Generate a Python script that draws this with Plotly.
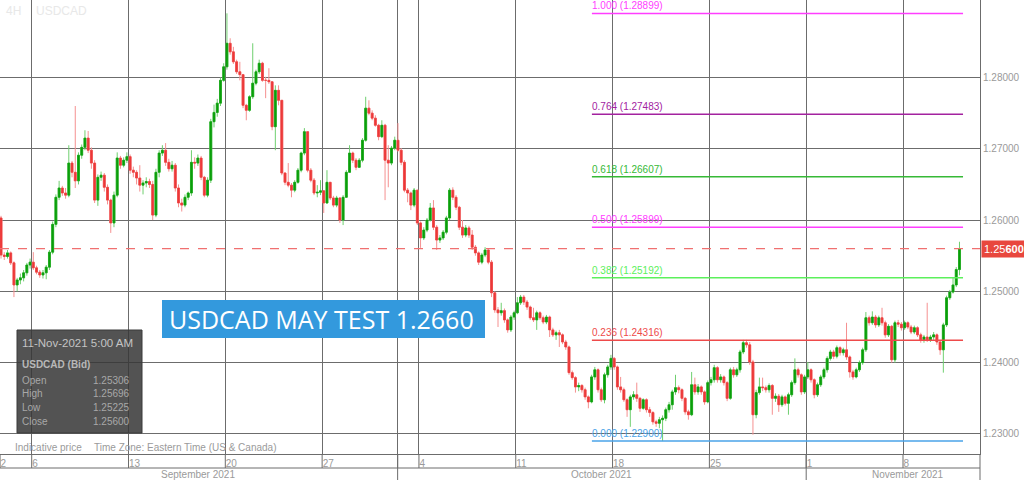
import plotly.graph_objects as go

# ---------------- data (USDCAD 4H candles) ----------------
FIRST_OPEN = 1.2603
close = [
    1.2551, 1.2549, 1.2554, 1.2540, 1.2509, 1.2516, 1.2519, 1.2526, 1.2537, 1.2541,
    1.2533, 1.2527, 1.2523, 1.2526, 1.2534, 1.2555, 1.2594, 1.2632, 1.2645, 1.2638,
    1.2635, 1.2680, 1.2667, 1.2655, 1.2691, 1.2702, 1.2715, 1.2698, 1.2680, 1.2628,
    1.2660, 1.2663, 1.2646, 1.2628, 1.2596, 1.2635, 1.2687, 1.2677, 1.2684, 1.2689,
    1.2670, 1.2667, 1.2659, 1.2649, 1.2652, 1.2654, 1.2650, 1.2607, 1.2667, 1.2694,
    1.2698, 1.2681, 1.2672, 1.2677, 1.2645, 1.2624, 1.2621, 1.2632, 1.2638, 1.2681,
    1.2680, 1.2687, 1.2660, 1.2635, 1.2656, 1.2738, 1.2751, 1.2764, 1.2796, 1.2815,
    1.2848, 1.2836, 1.2822, 1.2808, 1.2804, 1.2761, 1.2754, 1.2773, 1.2792, 1.2808,
    1.2820, 1.2796, 1.2796, 1.2794, 1.2731, 1.2782, 1.2768, 1.2666, 1.2653, 1.2649,
    1.2642, 1.2653, 1.2670, 1.2694, 1.2724, 1.2670, 1.2656, 1.2638, 1.2639, 1.2641,
    1.2624, 1.2653, 1.2631, 1.2621, 1.2631, 1.2600, 1.2632, 1.2667, 1.2694, 1.2684,
    1.2674, 1.2684, 1.2712, 1.2757, 1.2750, 1.2743, 1.2733, 1.2717, 1.2733, 1.2684,
    1.2680, 1.2701, 1.2712, 1.2698, 1.2681, 1.2642, 1.2638, 1.2621, 1.2642, 1.2596,
    1.2575, 1.2586, 1.2600, 1.2617, 1.2590, 1.2572, 1.2575, 1.2583, 1.2603, 1.2642,
    1.2632, 1.2618, 1.2590, 1.2579, 1.2589, 1.2579, 1.2562, 1.2554, 1.2541, 1.2551,
    1.2558, 1.2541, 1.2498, 1.2474, 1.2470, 1.2473, 1.2460, 1.2446, 1.2464, 1.2470,
    1.2484, 1.2492, 1.2485, 1.2478, 1.2463, 1.2460, 1.2470, 1.2463, 1.2457, 1.2464,
    1.2446, 1.2439, 1.2442, 1.2439, 1.2429, 1.2422, 1.2386, 1.2379, 1.2366, 1.2368,
    1.2362, 1.2352, 1.2345, 1.2380, 1.2390, 1.2362, 1.2348, 1.2383, 1.2394, 1.2406,
    1.2394, 1.2366, 1.2362, 1.2348, 1.2334, 1.2352, 1.2355, 1.2350, 1.2336, 1.2348,
    1.2334, 1.2330, 1.2317, 1.2315, 1.2320, 1.2322, 1.2334, 1.2341, 1.2359, 1.2365,
    1.2362, 1.2350, 1.2331, 1.2327, 1.2369, 1.2359, 1.2366, 1.2359, 1.2345, 1.2372,
    1.2376, 1.2393, 1.2376, 1.2380, 1.2372, 1.2350, 1.2390, 1.2383, 1.2390, 1.2415,
    1.2428, 1.2425, 1.2401, 1.2327, 1.2358, 1.2366, 1.2365, 1.2362, 1.2368, 1.2350,
    1.2353, 1.2341, 1.2352, 1.2343, 1.2355, 1.2372, 1.2390, 1.2383, 1.2359, 1.2380,
    1.2390, 1.2376, 1.2355, 1.2369, 1.2380, 1.2390, 1.2406, 1.2415, 1.2409, 1.2421,
    1.2414, 1.2418, 1.2408, 1.2387, 1.2380, 1.2390, 1.2400, 1.2418, 1.2463, 1.2456,
    1.2464, 1.2453, 1.2463, 1.2456, 1.2439, 1.2451, 1.2404, 1.2456, 1.2454, 1.2449,
    1.2456, 1.2450, 1.2443, 1.2449, 1.2439, 1.2432, 1.2436, 1.2432, 1.2436, 1.2439,
    1.2429, 1.2418, 1.2453, 1.2491, 1.2499, 1.2509, 1.25306, 1.25600,
]
high = [
    1.2606, 1.2555, 1.2558, 1.2556, 1.2542, 1.2519, 1.2525, 1.2530, 1.2540, 1.2546,
    1.2555, 1.2536, 1.2530, 1.2530, 1.2537, 1.2558, 1.2598, 1.2636, 1.2655, 1.2648,
    1.2645, 1.2705, 1.2683, 1.2760, 1.2695, 1.2706, 1.2726, 1.2725, 1.2702, 1.2684,
    1.2664, 1.2668, 1.2666, 1.2650, 1.2630, 1.2640, 1.2695, 1.2690, 1.2688, 1.2695,
    1.2692, 1.2675, 1.2670, 1.2677, 1.2656, 1.2660, 1.2658, 1.2655, 1.2672, 1.2698,
    1.2705, 1.2708, 1.2686, 1.2683, 1.2680, 1.2650, 1.2630, 1.2636, 1.2640, 1.2698,
    1.2688, 1.2692, 1.2690, 1.2662, 1.2660, 1.2742, 1.2762, 1.2770, 1.2800, 1.2820,
    1.2890, 1.2855, 1.2843, 1.2825, 1.2822, 1.2805, 1.2763, 1.2775, 1.2848, 1.2811,
    1.2825, 1.2822, 1.2801, 1.2813, 1.2792, 1.2789, 1.2789, 1.2768, 1.2667, 1.2680,
    1.2652, 1.2656, 1.2673, 1.2696, 1.2729, 1.2724, 1.2673, 1.2659, 1.2649, 1.2656,
    1.2642, 1.2670, 1.2652, 1.2634, 1.2634, 1.2632, 1.2635, 1.2670, 1.2705, 1.2696,
    1.2687, 1.2687, 1.2715, 1.2773, 1.2768, 1.2754, 1.2747, 1.2735, 1.2740, 1.2735,
    1.2705, 1.2704, 1.2717, 1.2736, 1.2701, 1.2684, 1.2645, 1.2640, 1.2645, 1.2642,
    1.2598, 1.2590, 1.2603, 1.2624, 1.2628, 1.2593, 1.2579, 1.2586, 1.2606, 1.2645,
    1.2646, 1.2635, 1.2620, 1.2600, 1.2593, 1.2592, 1.2586, 1.2565, 1.2556, 1.2554,
    1.2562, 1.2560, 1.2544, 1.2500, 1.2478, 1.2484, 1.2476, 1.2462, 1.2467, 1.2473,
    1.2492, 1.2495, 1.2495, 1.2488, 1.2480, 1.2477, 1.2473, 1.2472, 1.2466, 1.2467,
    1.2466, 1.2449, 1.2445, 1.2446, 1.2441, 1.2432, 1.2424, 1.2389, 1.2381, 1.2372,
    1.2370, 1.2365, 1.2354, 1.2383, 1.2394, 1.2392, 1.2365, 1.2386, 1.2397, 1.2411,
    1.2408, 1.2396, 1.2380, 1.2365, 1.2350, 1.2355, 1.2360, 1.2372, 1.2352, 1.2350,
    1.2350, 1.2338, 1.2332, 1.2320, 1.2324, 1.2326, 1.2337, 1.2345, 1.2362, 1.2383,
    1.2368, 1.2364, 1.2352, 1.2334, 1.2387, 1.2379, 1.2370, 1.2368, 1.2361, 1.2375,
    1.2380, 1.2397, 1.2395, 1.2384, 1.2382, 1.2374, 1.2393, 1.2394, 1.2393, 1.2418,
    1.2432, 1.2432, 1.2429, 1.2404, 1.2362, 1.2379, 1.2379, 1.2368, 1.2371, 1.2370,
    1.2357, 1.2356, 1.2355, 1.2354, 1.2358, 1.2375, 1.2406, 1.2393, 1.2385, 1.2383,
    1.2401, 1.2392, 1.2378, 1.2372, 1.2383, 1.2393, 1.2409, 1.2418, 1.2418, 1.2424,
    1.2423, 1.2421, 1.2456, 1.2410, 1.2390, 1.2393, 1.2403, 1.2421, 1.2471, 1.2466,
    1.2472, 1.2467, 1.2466, 1.2477, 1.2459, 1.2454, 1.2453, 1.2459, 1.2460, 1.2457,
    1.2459, 1.2458, 1.2453, 1.2452, 1.2451, 1.2442, 1.2439, 1.2484, 1.2439, 1.2443,
    1.2441, 1.2431, 1.2456, 1.2494, 1.2502, 1.2519, 1.2534, 1.25696,
]
low = [
    1.2546, 1.2544, 1.2546, 1.2537, 1.2492, 1.2500, 1.2510, 1.2514, 1.2522, 1.2532,
    1.2530, 1.2524, 1.2519, 1.2518, 1.2517, 1.2530, 1.2552, 1.2590, 1.2628, 1.2634,
    1.2630, 1.2632, 1.2660, 1.2645, 1.2650, 1.2686, 1.2698, 1.2694, 1.2672, 1.2624,
    1.2620, 1.2655, 1.2640, 1.2622, 1.2582, 1.2590, 1.2632, 1.2672, 1.2674, 1.2680,
    1.2665, 1.2660, 1.2650, 1.2640, 1.2636, 1.2646, 1.2645, 1.2600, 1.2604, 1.2660,
    1.2690, 1.2676, 1.2668, 1.2668, 1.2640, 1.2618, 1.2612, 1.2618, 1.2628, 1.2634,
    1.2672, 1.2676, 1.2656, 1.2632, 1.2632, 1.2652, 1.2730, 1.2745, 1.2760, 1.2794,
    1.2811, 1.2832, 1.2819, 1.2805, 1.2796, 1.2757, 1.2740, 1.2752, 1.2770, 1.2789,
    1.2805, 1.2794, 1.2771, 1.2791, 1.2726, 1.2698, 1.2761, 1.2663, 1.2649, 1.2646,
    1.2632, 1.2639, 1.2651, 1.2667, 1.2691, 1.2667, 1.2653, 1.2635, 1.2632, 1.2635,
    1.2610, 1.2623, 1.2628, 1.2618, 1.2618, 1.2596, 1.2593, 1.2631, 1.2666, 1.2680,
    1.2670, 1.2673, 1.2681, 1.2710, 1.2747, 1.2740, 1.2731, 1.2712, 1.2715, 1.2628,
    1.2646, 1.2677, 1.2698, 1.2696, 1.2677, 1.2639, 1.2625, 1.2614, 1.2618, 1.2593,
    1.2561, 1.2572, 1.2583, 1.2598, 1.2586, 1.2558, 1.2568, 1.2572, 1.2580, 1.2600,
    1.2628, 1.2614, 1.2586, 1.2575, 1.2576, 1.2575, 1.2558, 1.2550, 1.2537, 1.2538,
    1.2548, 1.2538, 1.2492, 1.2470, 1.2450, 1.2466, 1.2456, 1.2442, 1.2443, 1.2460,
    1.2468, 1.2481, 1.2481, 1.2474, 1.2460, 1.2457, 1.2446, 1.2460, 1.2454, 1.2454,
    1.2436, 1.2436, 1.2432, 1.2422, 1.2426, 1.2418, 1.2383, 1.2376, 1.2358, 1.2360,
    1.2358, 1.2348, 1.2336, 1.2343, 1.2376, 1.2358, 1.2345, 1.2343, 1.2379, 1.2390,
    1.2390, 1.2362, 1.2358, 1.2345, 1.2324, 1.2310, 1.2348, 1.2345, 1.2331, 1.2334,
    1.2330, 1.2324, 1.2313, 1.2310, 1.2308, 1.2290, 1.2318, 1.2330, 1.2334, 1.2355,
    1.2357, 1.2346, 1.2327, 1.2320, 1.2325, 1.2355, 1.2355, 1.2355, 1.2341, 1.2343,
    1.2368, 1.2372, 1.2372, 1.2372, 1.2368, 1.2346, 1.2348, 1.2379, 1.2380, 1.2386,
    1.2412, 1.2421, 1.2397, 1.2299, 1.2322, 1.2355, 1.2360, 1.2358, 1.2358, 1.2327,
    1.2345, 1.2331, 1.2338, 1.2340, 1.2327, 1.2352, 1.2369, 1.2379, 1.2355, 1.2356,
    1.2377, 1.2372, 1.2350, 1.2352, 1.2366, 1.2377, 1.2386, 1.2403, 1.2405, 1.2406,
    1.2410, 1.2410, 1.2404, 1.2379, 1.2376, 1.2378, 1.2387, 1.2397, 1.2415, 1.2452,
    1.2453, 1.2449, 1.2450, 1.2452, 1.2435, 1.2436, 1.2400, 1.2400, 1.2450, 1.2445,
    1.2446, 1.2447, 1.2440, 1.2440, 1.2436, 1.2428, 1.2428, 1.2429, 1.2429, 1.2432,
    1.2425, 1.2411, 1.2386, 1.2450, 1.2488, 1.2497, 1.2506, 1.25225,
]

# axis ticks / labels (positions in candle-index units)
day_tick_pos = [-0.3, 9.5, 39.5, 69.5, 99.5, 122.9, 129.5, 159.5, 189.5, 219.5, 249.5, 279.5]
day_tick_text = ["2", "6", "13", "20", "27", "", "4", "11", "18", "25", "1", "8"]
month_bounds = [122.9, 249.5]
month_names = ["September 2021", "October 2021", "November 2021"]
month_label_pos = [61.0, 186.0, 281.0]
price_ticks = [1.23, 1.24, 1.25, 1.26, 1.27, 1.28]

fib_ratios = ["1.000", "0.764", "0.618", "0.500", "0.382", "0.236", "0.000"]
fib_levels = [1.28899, 1.27483, 1.26607, 1.25899, 1.25192, 1.24316, 1.22900]
fib_span = [183.1, 298.1]

last_price = 1.25600
info_title = "11-Nov-2021 5:00 AM"
info_symbol = "USDCAD (Bid)"
info_names = ["Open", "High", "Low", "Close"]
info_values = ["1.25306", "1.25696", "1.25225", "1.25600"]

# ---------------- styling ----------------
fib_colors = ["#ff3dff", "#a3229f", "#36b936", "#ff3dff", "#5cf05c", "#ee4a4a", "#4aa3e8"]
W, H = 1024, 480
PLOT_W = 980
GRID = "#6c6c6c"
TXT = "#9a9a9a"
FONT = "Liberation Sans, Arial, sans-serif"


def px(x):
    return x / PLOT_W


def py(y):
    return (H - y) / H


open_ = [FIRST_OPEN] + close[:-1]
idx = list(range(len(close)))
body_top = [max(o, c) for o, c in zip(open_, close)]
body_bot = [min(o, c) for o, c in zip(open_, close)]

fig = go.Figure()
# light wicks
fig.add_trace(go.Candlestick(
    x=idx, open=open_, high=high, low=low, close=close,
    increasing=dict(line=dict(color="#6fcf6f", width=1), fillcolor="#6fcf6f"),
    decreasing=dict(line=dict(color="#f59090", width=1), fillcolor="#f59090"),
    whiskerwidth=0, hoverinfo="skip", showlegend=False,
))
# solid bodies on top
fig.add_trace(go.Candlestick(
    x=idx, open=open_, high=body_top, low=body_bot, close=close,
    increasing=dict(line=dict(color="#10a310", width=0.6), fillcolor="#0a9e0a"),
    decreasing=dict(line=dict(color="#ee4040", width=0.6), fillcolor="#ec3838"),
    whiskerwidth=0, hoverinfo="skip", showlegend=False,
))

shapes = []
annotations = []

# Fibonacci levels
for r, lv, col in zip(fib_ratios, fib_levels, fib_colors):
    shapes.append(dict(type="line", xref="x", yref="y", x0=fib_span[0], x1=fib_span[1],
                       y0=lv, y1=lv, line=dict(color=col, width=1.5)))
    annotations.append(dict(xref="x", yref="y", x=fib_span[0], y=lv, xanchor="left",
                            yanchor="bottom", showarrow=False, text=f"{r} ({lv:.5f})",
                            font=dict(family=FONT, size=10, color=col), xshift=-2))

# current price dashed line + label
shapes.append(dict(type="line", xref="paper", yref="y", x0=0, x1=1, y0=last_price,
                   y1=last_price, line=dict(color="#f07070", width=1.2, dash="dash")))
annotations.append(dict(xref="paper", yref="y", x=1, y=last_price, xanchor="left",
                        yanchor="middle", showarrow=False, text="1.25<b>600</b>",
                        bgcolor="#e8473e", borderpad=2, xshift=1,
                        font=dict(family=FONT, size=11, color="white")))

# date axis rows
for p in day_tick_pos:
    shapes.append(dict(type="line", xref="x", yref="paper", x0=p, x1=p, y0=py(468), y1=py(454),
                       line=dict(color=GRID, width=1)))
for p in month_bounds:
    shapes.append(dict(type="line", xref="x", yref="paper", x0=p, x1=p, y0=py(480), y1=py(454),
                       line=dict(color=GRID, width=1)))
shapes.append(dict(type="line", xref="paper", yref="paper", x0=0, x1=1, y0=py(468), y1=py(468),
                   line=dict(color=GRID, width=1)))
shapes.append(dict(type="line", xref="paper", yref="paper", x0=1, x1=1, y0=py(480), y1=py(454),
                   line=dict(color=GRID, width=1)))
for name, p in zip(month_names, month_label_pos):
    annotations.append(dict(xref="x", yref="paper", x=p, y=py(474), showarrow=False, text=name,
                            font=dict(family=FONT, size=10, color=TXT), yanchor="middle"))

# watermark
annotations.append(dict(xref="paper", yref="paper", x=px(4), y=py(11), xanchor="left", yanchor="middle",
                        showarrow=False, text="4H", font=dict(family=FONT, size=12, color="#e8e8e8")))
annotations.append(dict(xref="paper", yref="paper", x=px(34), y=py(11), xanchor="left", yanchor="middle",
                        showarrow=False, text="USDCAD", font=dict(family=FONT, size=12, color="#e8e8e8")))

# blue callout
shapes.append(dict(type="rect", xref="paper", yref="paper", x0=px(162), x1=px(485), y0=py(338), y1=py(300),
                   fillcolor="#3399dd", line=dict(width=0)))
annotations.append(dict(xref="paper", yref="paper", x=px(321), y=py(319), xanchor="center", yanchor="middle",
                        showarrow=False, text="USDCAD MAY TEST 1.2660",
                        font=dict(family="Open Sans, Roboto, Arial", size=25, color="white")))

# info box
shapes.append(dict(type="rect", xref="paper", yref="paper", x0=px(17), x1=px(142), y0=py(433), y1=py(330),
                   fillcolor="rgba(55,55,55,0.86)", line=dict(color="#3a3a3a", width=1)))
annotations.append(dict(xref="paper", yref="paper", x=px(20), y=py(343), xanchor="left", yanchor="middle",
                        showarrow=False, text=info_title, font=dict(family=FONT, size=11.5, color="#c4c4c4")))
annotations.append(dict(xref="paper", yref="paper", x=px(20), y=py(364), xanchor="left", yanchor="middle",
                        showarrow=False, text=f"<b>{info_symbol}</b>", font=dict(family=FONT, size=10, color="#b8b8b8")))
for k, (n, v) in enumerate(zip(info_names, info_values)):
    yy = 380 + k * 13.7
    annotations.append(dict(xref="paper", yref="paper", x=px(20), y=py(yy), xanchor="left", yanchor="middle",
                            showarrow=False, text=n, font=dict(family=FONT, size=10, color="#a8a8a8")))
    annotations.append(dict(xref="paper", yref="paper", x=px(132), y=py(yy), xanchor="right", yanchor="middle",
                            showarrow=False, text=v, font=dict(family=FONT, size=10, color="#a8a8a8")))

# footer text
annotations.append(dict(xref="paper", yref="paper", x=px(13), y=py(447), xanchor="left", yanchor="middle",
                        showarrow=False, text="Indicative price", font=dict(family=FONT, size=10, color=TXT)))
annotations.append(dict(xref="paper", yref="paper", x=px(92), y=py(447), xanchor="left", yanchor="middle",
                        showarrow=False, text="Time Zone: Eastern Time (US &amp; Canada)",
                        font=dict(family=FONT, size=10, color=TXT)))

fig.update_layout(
    width=W, height=H,
    margin=dict(l=0, r=W - PLOT_W, t=0, b=0, pad=0),
    paper_bgcolor="white", plot_bgcolor="white",
    showlegend=False, boxgap=0.15, boxmode="overlay",
    shapes=shapes, annotations=annotations,
    xaxis=dict(range=[-0.32, 303.36], domain=[0, 1], showgrid=True, gridcolor=GRID, gridwidth=1,
               tickmode="array", tickvals=day_tick_pos, ticktext=day_tick_text, ticks="",
               ticklabelposition="outside right", tickfont=dict(family=FONT, size=10, color=TXT),
               showline=True, linecolor=GRID, linewidth=1, zeroline=False,
               rangeslider=dict(visible=False), automargin=False, fixedrange=True),
    yaxis=dict(range=[1.22719, 1.29087], domain=[26 / H, 1], side="right", showgrid=True,
               gridcolor=GRID, gridwidth=1, tickmode="array", tickvals=price_ticks,
               tickformat=".5f", ticks="", tickfont=dict(family=FONT, size=10, color=TXT),
               showline=True, linecolor=GRID, linewidth=1, zeroline=False,
               automargin=False, fixedrange=True),
)

fig.write_html("out.html", config={"displayModeBar": False})

# remove the browser's default page margin so the figure sits at the window origin
with open("out.html", "r", encoding="utf-8") as f:
    page = f.read()
page = page.replace("<head>", "<head><style>html,body{margin:0;padding:0;overflow:hidden;}</style>", 1)
with open("out.html", "w", encoding="utf-8") as f:
    f.write(page)
